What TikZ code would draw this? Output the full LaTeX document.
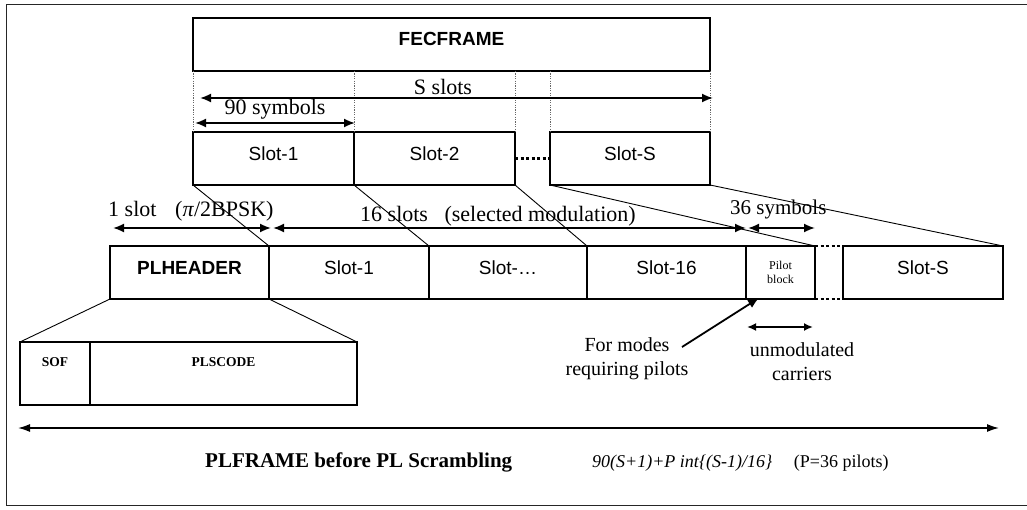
\documentclass[tikz,border=0pt]{standalone}
\usepackage{fontspec}
\setmainfont{Liberation Serif}
\setsansfont{Liberation Sans}
\usetikzlibrary{arrows.meta}
\begin{document}
\begin{tikzpicture}[x=1pt,y=-1pt,
  box/.style={draw,line width=1.3pt,inner sep=0pt,outer sep=0pt,anchor=north west,
    font=\sffamily\fontsize{19}{19}\selectfont,text height=14pt,text depth=10.4pt},
  bbox/.style={box,font=\sffamily\bfseries\fontsize{19}{19}\selectfont},
  sbox/.style={box,font=\bfseries\fontsize{13.5}{13.5}\selectfont,text height=9pt,text depth=23.4pt},
  pbox/.style={draw,line width=1.3pt,inner sep=0pt,outer sep=0pt,anchor=north west,
    font=\fontsize{12}{14}\selectfont,align=center},
  ann/.style={inner sep=0pt,font=\fontsize{22}{22}\selectfont},
  sml/.style={inner sep=0pt,font=\fontsize{20}{24}\selectfont,align=center},
  guide/.style={line width=0.8pt,gray!80!black,dash pattern=on 1.2pt off 1.2pt},
  dotsl/.style={line width=2.6pt,dash pattern=on 3pt off 2.5pt},
  thin/.style={line width=0.9pt},
  arr/.style={line width=1.8pt,{Latex[length=11pt,width=9pt]}-{Latex[length=11pt,width=9pt]}},
  arrone/.style={line width=1.8pt,-{Latex[length=11pt,width=9pt]}},
]
\useasboundingbox (0,0) rectangle (1027,510);
% outer frame
\draw[line width=1pt,black!85] (1027,5) -- (6,5) -- (6,505) -- (1027,505);

% FECFRAME and upper slots
\node[bbox,minimum width=517pt,minimum height=53pt,text height=14pt,text depth=12pt] (fec) at (193,18) {FECFRAME};
\node[box,minimum width=161pt,minimum height=53pt] (us1) at (193,132) {Slot-1};
\node[box,minimum width=161pt,minimum height=53pt] (us2) at (354,132) {Slot-2};
\node[box,minimum width=160pt,minimum height=53pt] (usS) at (550,132) {Slot-S};

% guides
\draw[guide] (fec.south west) -- (us1.north west);
\draw[guide] (us2.north west |- fec.south) -- (us2.north west);
\draw[guide] (us2.north east |- fec.south) -- (us2.north east);
\draw[guide] (usS.north west |- fec.south) -- (usS.north west);
\draw[guide] (fec.south east) -- (usS.north east);
\draw[dotsl] (us2.east) -- (usS.west);

% S slots and 90 symbols
\coordinate (sa) at (200,98);
\coordinate (sb) at (713,98);
\draw[arr] (sa) -- (sb);
\node[ann,anchor=base] (tS) at (443,95) {S slots};
\coordinate (na) at (195,123);
\coordinate (nb) at (355,123);
\draw[arr] (na) -- (nb);
\node[ann,anchor=base] (t90) at (275,115) {90 symbols};

% lower row
\node[bbox,minimum width=159pt,minimum height=53pt] (plh) at (110,246) {PLHEADER};
\node[box,minimum width=160pt,minimum height=53pt] (ls1) at (269,246) {Slot-1};
\node[box,minimum width=158pt,minimum height=53pt] (lsd) at (429,246) {Slot-…};
\node[box,minimum width=159pt,minimum height=53pt] (ls16) at (587,246) {Slot-16};
\node[pbox,minimum width=69pt,minimum height=53pt] (pil) at (746,246) {Pilot\\block};
\node[box,minimum width=160pt,minimum height=53pt] (lsS) at (843,246) {Slot-S};
\draw[dotsl] (pil.south east) -- (lsS.south west);
\draw[dotsl] (pil.north east) -- (lsS.north west);

% mapping lines
\draw[thin] (us1.south west) -- (ls1.north west);
\draw[thin] (us2.south west) -- (lsd.north west);
\draw[thin] (us2.south east) -- (ls16.north west);
\draw[thin] (usS.south west) -- (pil.north east);
\draw[thin] (usS.south east) -- (lsS.north east);

% slot arrows
\coordinate (a1) at (113,228);
\coordinate (a2) at (271,228);
\coordinate (a3) at (273,228);
\coordinate (a4) at (746,228);
\coordinate (a5) at (748,228);
\coordinate (a6) at (815,228);
\draw[arr] (a1) -- (a2);
\draw[arr] (a3) -- (a4);
\draw[arr] (a5) -- (a6);
\node[ann,anchor=base west] (t1) at (108,217) {1 slot\hspace{0.6em} (\textit{π}/2BPSK)};
\node[ann,anchor=base west] (t16) at (360,222) {16 slots\hspace{0.5em} (selected modulation)};
\node[ann,anchor=base west,font=\fontsize{21}{21}\selectfont] (t36) at (730,215) {36 symbols};

% PLHEADER expansion
\node[sbox,minimum width=70pt,minimum height=63pt] (sof) at (20,342) {SOF};
\node[sbox,minimum width=267pt,minimum height=63pt] (plsc) at (90,342) {PLSCODE};
\draw[thin] (plh.south west) -- (sof.north west);
\draw[thin] (plh.south east) -- (plsc.north east);

% pilots annotation
\node[sml,anchor=north] (fm) at (627,337) {For modes\\requiring pilots};
\coordinate (fa) at (682,347);
\coordinate (fb) at (759,298);
\draw[arrone] (fa) -- (fb);
\coordinate (ua) at (747,327);
\coordinate (ub) at (813,327);
\draw[line width=1.8pt,{Latex[length=9pt,width=8pt]}-{Latex[length=9pt,width=8pt]}] (ua) -- (ub);
\node[sml,anchor=north] (um) at (802,342) {unmodulated\\carriers};

% PLFRAME
\coordinate (pa) at (18,428);
\coordinate (pb) at (999,428);
\draw[line width=1.5pt,{Latex[length=12pt,width=8pt]}-{Latex[length=12pt,width=8pt]}] (pa) -- (pb);
\node[inner sep=0pt,anchor=base west,font=\bfseries\fontsize{21}{21}\selectfont] (pf) at (205,467) {PLFRAME before PL Scrambling};
\node[inner sep=0pt,anchor=base west,font=\fontsize{18}{18}\selectfont] (fml) at (592,467) {\textit{90(S+1)+P int\{(S-1)/16\}}\hspace{1.2em}(P=36 pilots)};
\end{tikzpicture}
\end{document}
